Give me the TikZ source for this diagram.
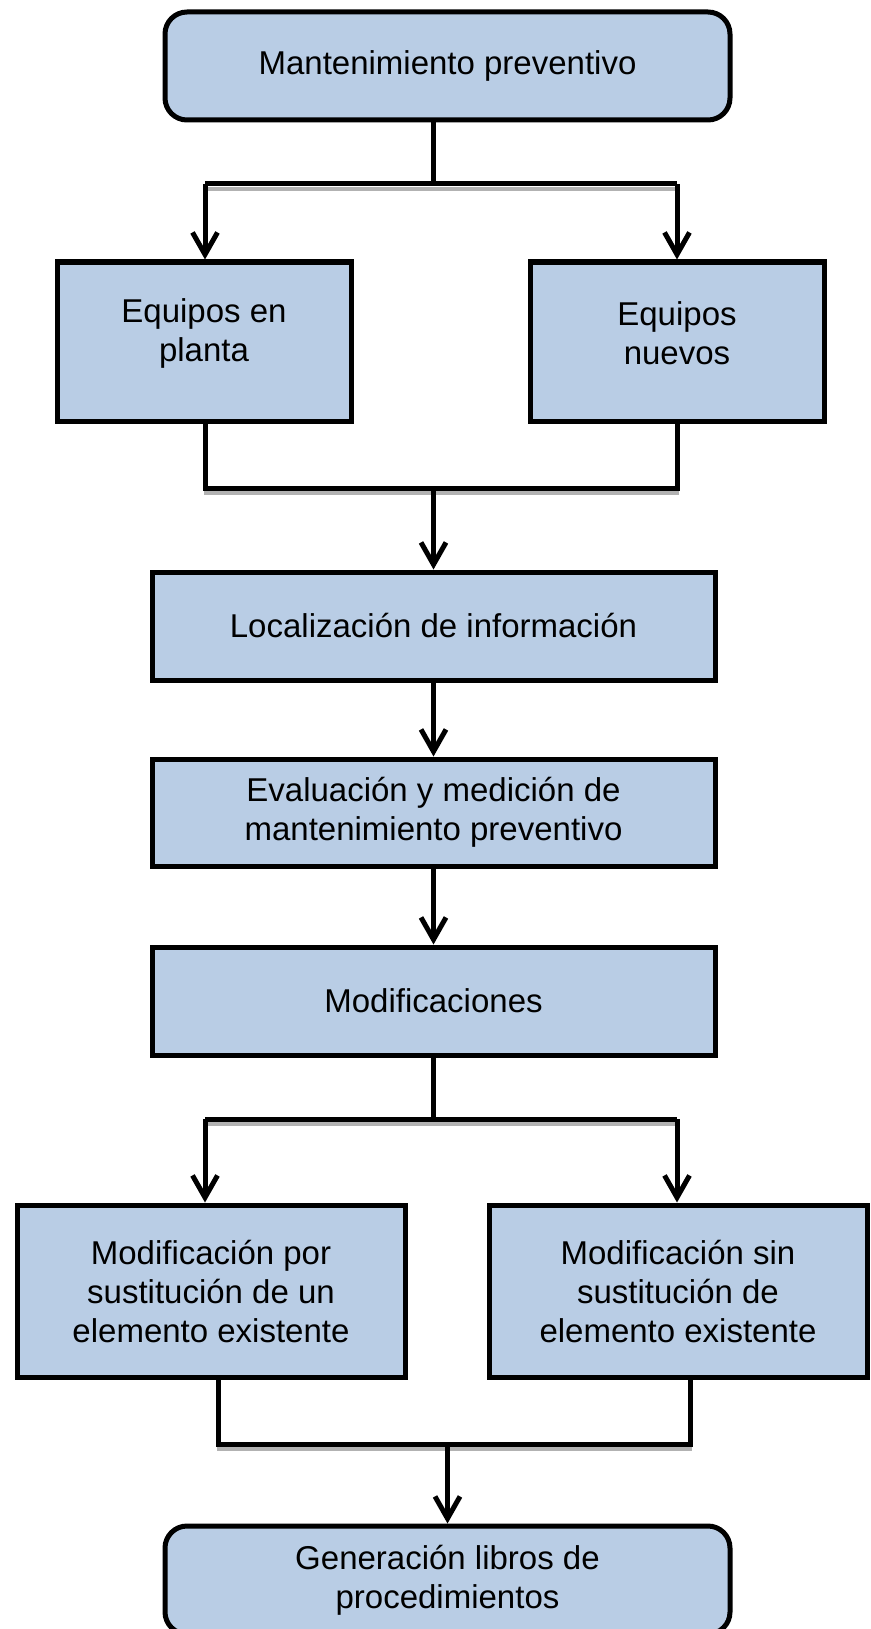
\documentclass[tikz,border=0pt]{standalone}
\usepackage{fontspec}
\setmainfont{Liberation Sans}
\usetikzlibrary{arrows.meta,calc}
\definecolor{boxblue}{RGB}{185,205,229}
\begin{document}
\begin{tikzpicture}[x=1pt,y=-1pt,
  every node/.style={font=\fontsize{33}{39}\selectfont, align=center, inner sep=0pt},
  stepbox/.style={draw=black, line width=5pt, fill=boxblue},
  roundbox/.style={stepbox, rounded corners=22pt},
  link/.style={line width=5pt, draw=black},
  flow/.style={link, -{Straight Barb[length=22pt,width=25pt]}},
  drop/.style={line width=4pt, draw=gray!60},
]
\useasboundingbox (0,0) rectangle (870,1629);
\clip (0,0) rectangle (870,1629);

% boxes
\node[roundbox, minimum width=565pt, minimum height=108pt] (top) at (447.5,66) {Mantenimiento preventivo};
\node[stepbox, minimum width=294pt, minimum height=159pt,
      label={[name=eqptxt, yshift=8pt]center:{Equipos en\\planta}}] (eqp) at (204,341.5) {};
\node[stepbox, minimum width=294pt, minimum height=159pt,
      label={[name=eqntxt, yshift=8pt]center:{Equipos\\nuevos}}] (eqn) at (677,341.5) {};
\node[stepbox, minimum width=563pt, minimum height=108pt] (loc) at (433.5,626) {Localización de información};
\node[stepbox, minimum width=563pt, minimum height=107pt] (eval) at (433.5,812.5) {Evaluación y medición de\\mantenimiento preventivo};
\node[stepbox, minimum width=563pt, minimum height=108pt] (modif) at (433.5,1001) {Modificaciones};
\node[stepbox, minimum width=388pt, minimum height=172pt] (ms) at (211,1291) {Modificación por\\sustitución de un\\elemento existente};
\node[stepbox, minimum width=378pt, minimum height=172pt] (mn) at (678,1291) {Modificación sin\\sustitución de\\elemento existente};
\node[roundbox, minimum width=565pt, minimum height=108pt] (bot) at (447.5,1580) {Generación libros de\\procedimientos};

% junction points
\coordinate (j1)  at (433.5,184);
\coordinate (j1l) at (205,184);
\coordinate (j1r) at (677,184);
\coordinate (j2)  at (433.5,488);
\coordinate (j2l) at (205,488);
\coordinate (j2r) at (677,488);
\coordinate (j3)  at (433.5,1119);
\coordinate (j3l) at (205,1119);
\coordinate (j3r) at (677,1119);
\coordinate (j4)  at (447.5,1444);
\coordinate (j4l) at (218,1444);
\coordinate (j4r) at (690,1444);

% soft shadows under the horizontal bars
\draw[drop] ([xshift=-1pt,yshift=-5pt]j1l) -- ([xshift=2pt,yshift=-5pt]j1r);
\draw[drop] ([xshift=-1pt,yshift=-5pt]j2l) -- ([xshift=2pt,yshift=-5pt]j2r);
\draw[drop] ([xshift=-1pt,yshift=-5pt]j3l) -- ([xshift=2pt,yshift=-5pt]j3r);
\draw[drop] ([xshift=-1pt,yshift=-5pt]j4l) -- ([xshift=2pt,yshift=-5pt]j4r);

% split after the first box
\draw[link] (top.south -| j1) -- (j1);
\draw[link] (j1l) -- (j1r);
\draw[flow] (j1l) -- (j1l |- eqp.north);
\draw[flow] (j1r) -- (j1r |- eqn.north);

% merge into localisation
\draw[link] (eqp.south -| j2l) -- (j2l) -- (j2r) -- (eqn.south -| j2r);
\draw[flow] (j2) -- (loc.north);

% straight chain
\draw[flow] (loc.south) -- (eval.north);
\draw[flow] (eval.south) -- (modif.north);

% split after modifications
\draw[link] (modif.south) -- (j3);
\draw[link] (j3l) -- (j3r);
\draw[flow] (j3l) -- (j3l |- ms.north);
\draw[flow] (j3r) -- (j3r |- mn.north);

% merge into the final box
\draw[link] (ms.south -| j4l) -- (j4l) -- (j4r) -- (mn.south -| j4r);
\draw[flow] (j4) -- (bot.north);
\end{tikzpicture}
\end{document}
